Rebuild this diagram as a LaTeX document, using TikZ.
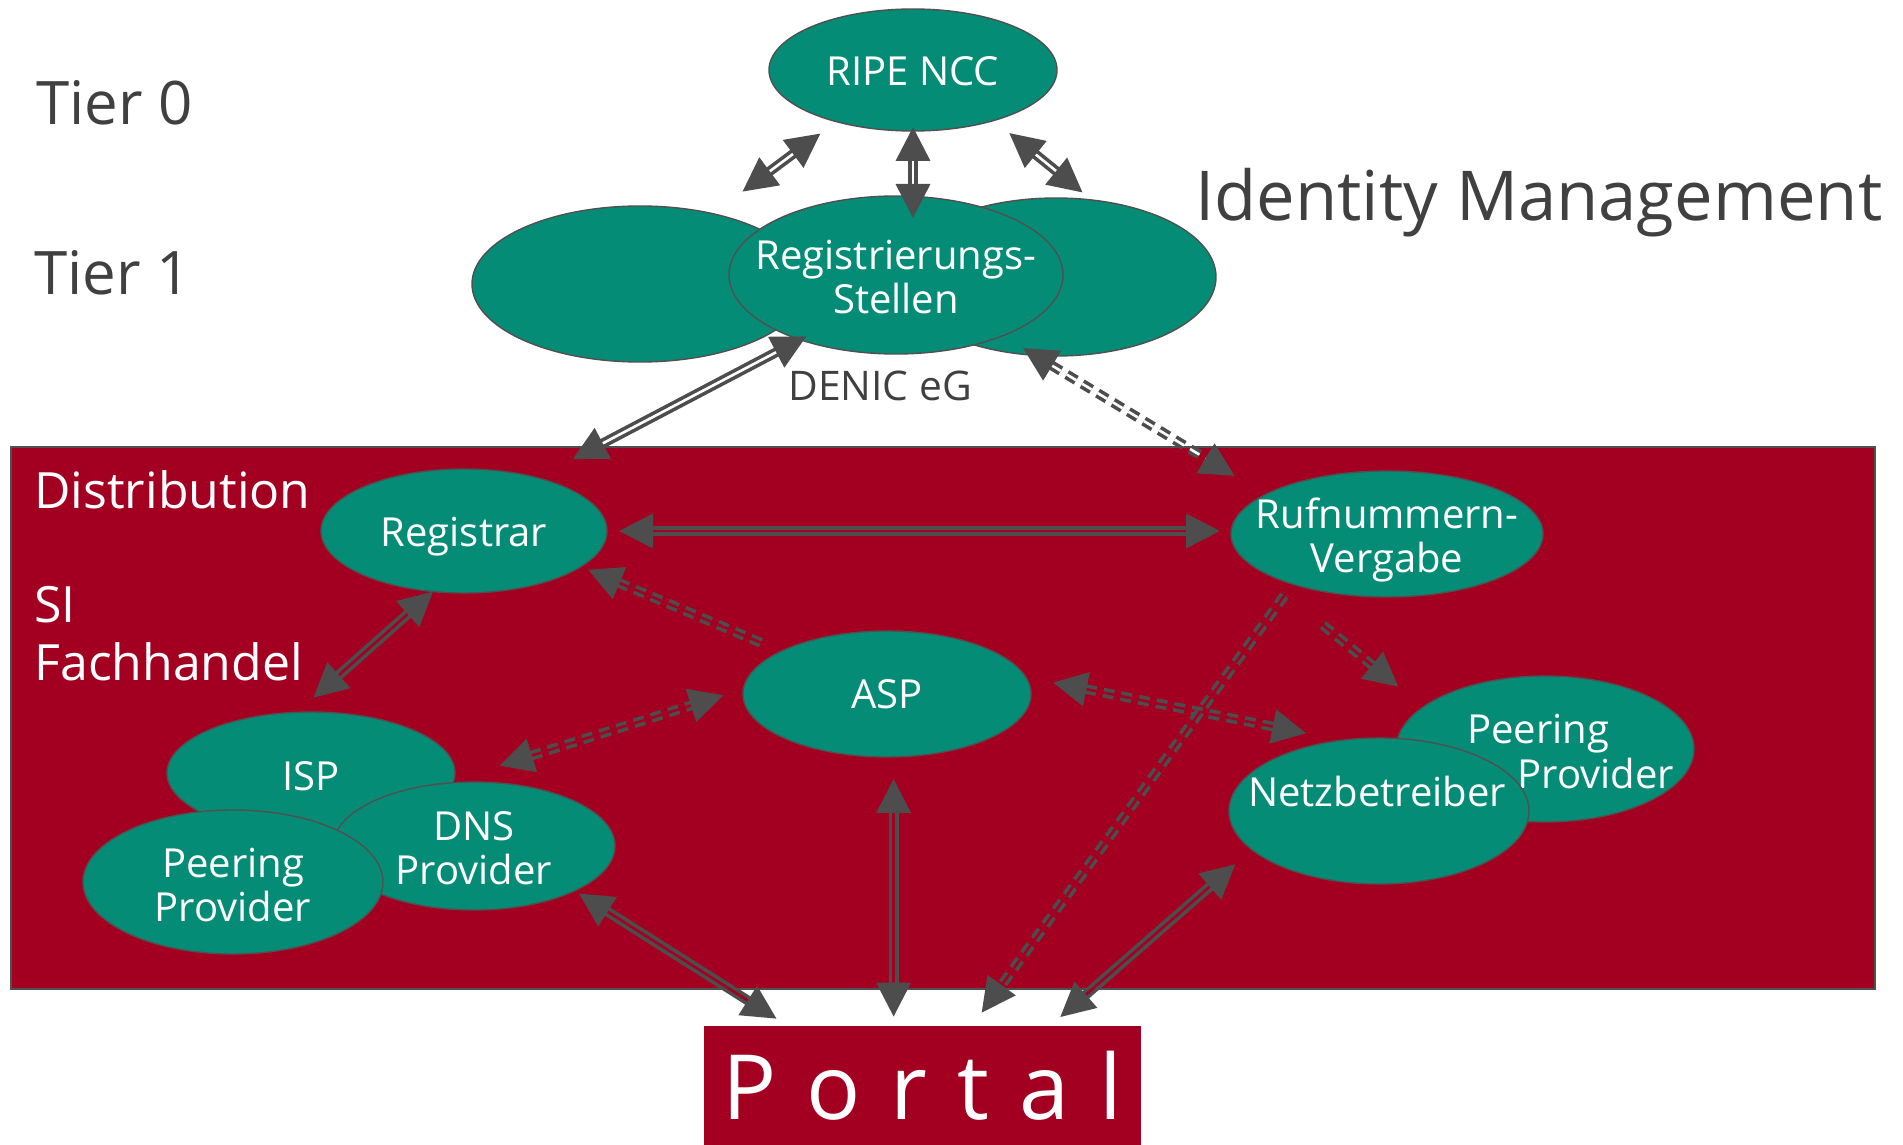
\documentclass[tikz,border=0pt]{standalone}
\usepackage{fontspec}
\setmainfont{Open Sans}
\usepackage{tikz}
\usetikzlibrary{calc,shapes.geometric,arrows.meta}
\definecolor{teal}{RGB}{5,140,118}
\definecolor{boxred}{RGB}{163,0,33}
\definecolor{arrowgray}{RGB}{77,77,77}
\definecolor{edgegray}{RGB}{80,80,80}
\definecolor{textgray}{RGB}{64,64,64}
\tikzset{
    >={Triangle[length=17pt,width=17pt]},
    blob/.style={ellipse, draw=edgegray, line width=0.7pt, fill=teal, inner sep=0pt, outer sep=0pt},
    btext/.style={text=white, align=center, inner sep=0pt, font=\fontsize{20}{22}\selectfont},
    tier/.style={text=textgray, anchor=west, inner sep=0pt, font=\fontsize{30}{34}\selectfont},
    link/.style={draw=arrowgray, line width=1.8pt, double=boxred, double distance=1.3pt},
    dashlink/.style={link, dash pattern=on 5.5pt off 3.5pt}
}

\begin{document}
\begin{tikzpicture}[x=0.5pt,y=-0.5pt]
            \useasboundingbox (0,0) rectangle (1903,1145);
            % distribution box
            \node[draw=edgegray, line width=1.3pt, fill=boxred, minimum width=932pt, minimum height=271pt, inner sep=0pt] (dist) at (943,718) {};
            % portal
            \node[fill=boxred, minimum width=218.5pt, minimum height=59.5pt, inner sep=0pt, text=white, font=\fontsize{45}{50}\selectfont] (portal) at (922,1085.5) {P\hspace{15pt}o\hspace{15pt}r\hspace{15pt}t\hspace{15pt}a\hspace{15pt}l};

            % side labels
            \node[tier] (tier0) at (36,103) {Tier 0};
            \node[tier] (tier1) at (34,273) {Tier 1};
            \node[text=textgray, anchor=west, inner sep=0pt, font=\fontsize{34.4}{39}\selectfont] (idm) at (1195,203) {Identity Management};
            \node[text=white, anchor=west, inner sep=0pt, font=\fontsize{25}{29}\selectfont] (distlabel) at (34,490) {Distribution};
            \node[text=white, anchor=west, inner sep=0pt, align=left, font=\fontsize{25}{29}\selectfont] (silabel) at (34,634) {SI\\Fachhandel};

            % tier 0 and tier 1
            \node[blob, minimum width=144pt, minimum height=61pt] (ripe) at (913,70) {};
            \node[btext] (ripe-t) at ($(ripe)+(0,1.5)$) {RIPE NCC};
            \node[blob, minimum width=168pt, minimum height=78pt] (tl) at (640,284) {};
            \node[blob, minimum width=160pt, minimum height=79pt] (tr) at (1056,277) {};
            \node[blob, minimum width=167pt, minimum height=79pt] (reg) at (896,275) {};
            \node[btext] (reg-t) at ($(reg)+(0,2.5)$) {Registrierungs-\\Stellen};
            \node[text=textgray, inner sep=0pt, font=\fontsize{20.4}{24}\selectfont] (denic) at (880,386) {DENIC eG};

            % distribution
            \node[blob, minimum width=143pt, minimum height=62pt] (registrar) at (464,531) {};
            \node[btext] (registrar-t) at ($(registrar)+(0,6)$) {Registrar};
            \node[blob, minimum width=156pt, minimum height=63pt] (rufnr) at (1387,534) {};
            \node[btext] (rufnr-t) at ($(rufnr)+(0,6)$) {Rufnummern-\\Vergabe};
            \node[blob, minimum width=144pt, minimum height=63pt] (asp) at (887,694) {};
            \node[btext] (asp-t) at (asp) {ASP};
            \node[blob, minimum width=144pt, minimum height=61pt] (isp) at (311,773) {};
            \node[btext] (isp-t) at ($(isp)+(0,3.5)$) {ISP};
            \node[blob, minimum width=141pt, minimum height=64pt] (dns) at (474,846) {};
            \node[btext] (dns-t) at ($(dns)+(0,2.5)$) {DNS\\Provider};
            \node[blob, minimum width=150pt, minimum height=72pt] (peerl) at (233,882) {};
            \node[btext] (peerl-t) at ($(peerl)+(0,3.5)$) {Peering\\Provider};
            \node[blob, minimum width=149pt, minimum height=73pt] (peerr) at (1545,749) {};
            \node[btext] (peerr-a) at (1538,734) {Peering};
            \node[btext] (peerr-b) at (1596,773) {Provider};
            \node[blob, minimum width=150pt, minimum height=73pt] (netz) at (1379,811) {};
            \node[btext] (netz-t) at (1377,791) {Netzbetreiber};

            % arrows tier 0 <-> tier 1
            \draw[link, double=white, <->, shorten <=10pt, shorten >=18.5pt] (ripe.214) -- (tl.44);
            \draw[link, double=white, <->, shorten <=-2pt, shorten >=-11pt] (ripe.south) -- (ripe.south |- reg.north);
            \draw[link, double=white, <->, shorten <=10pt, shorten >=6pt] (ripe.-32) -- (tr.65);

            % arrows tier 1 <-> distribution
            \draw[link, double=white, <->, shorten <=-3.5pt, shorten >=20pt] (reg.214) -- (registrar.36);
            \draw[dashlink, double=white, <->, shorten <=-7pt, shorten >=18pt] (tr.255) -- (rufnr.162);

            % arrows inside distribution
            \draw[link, <->, shorten <=6pt, shorten >=5.5pt] (registrar.east) -- (registrar.east -| rufnr.west);
            \draw[link, <->, shorten <=0pt, shorten >=11pt] (registrar.243) -- (isp.103);
            \draw[dashlink, ->, shorten <=11pt, shorten >=4pt] (asp.158) -- (registrar.-17);
            \draw[dashlink, <->, shorten <=30pt, shorten >=10.5pt] (dns.117) -- (asp.178);
            \draw[dashlink, <->, shorten <=14pt, shorten >=18pt] (asp.7) -- (netz.118);
            \draw[dashlink, ->, shorten >=16pt] ([shift={(-64,91)}]rufnr.center) -- (peerr.161);

            % arrows to portal
            \draw[dashlink, ->, shorten <=7pt, shorten >=8pt] (rufnr.208) -- (portal.50);
            \draw[link, <->, shorten <=11pt, shorten >=4.5pt] (asp.-84) -- (asp.-84 |- portal.north);
            \draw[link, <->, shorten <=2.5pt, shorten >=6.5pt] (dns.-24) -- (portal.156);
            \draw[link, <->, shorten <=11pt, shorten >=6.5pt] (netz.197) -- (portal.25);
\end{tikzpicture}
\end{document}
